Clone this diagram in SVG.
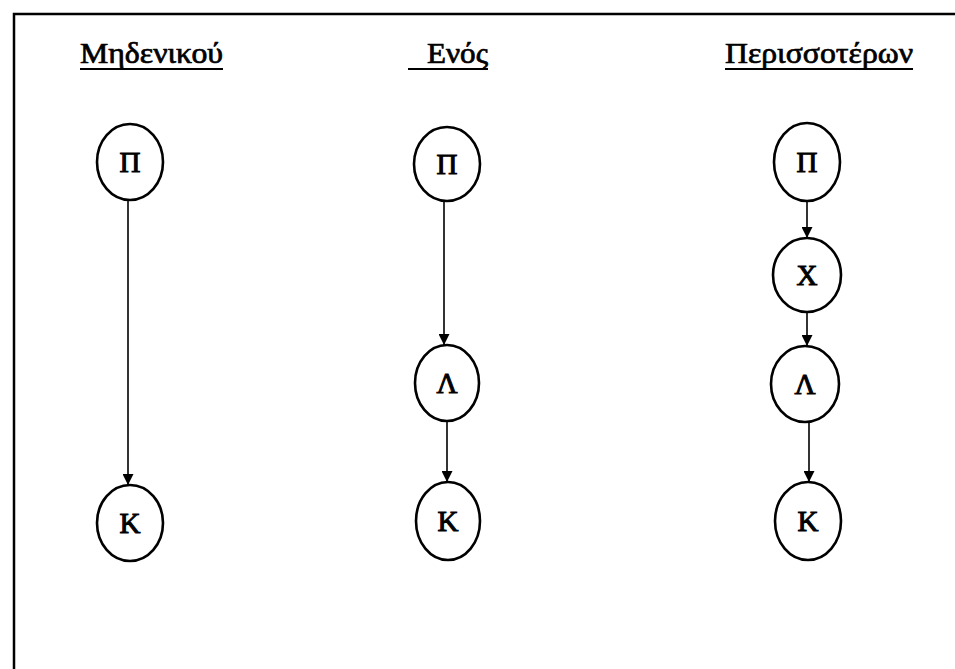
<svg xmlns="http://www.w3.org/2000/svg" width="955" height="669" viewBox="0 0 955 669">
  <defs>
    <marker id="arrow" viewBox="0 0 10 10" refX="10" refY="5" markerWidth="11" markerHeight="11" markerUnits="userSpaceOnUse" orient="auto">
      <path d="M0,0 L10,5 L0,10 Z" fill="#000"/>
    </marker>
  </defs>
  <style>
    .node ellipse { fill: #fff; stroke: #000; stroke-width: 2.6; }
    .node text { font-family: "Liberation Serif", "DejaVu Serif", serif; font-size: 29px; text-anchor: middle; fill: #000; stroke: #000; stroke-width: 1; }
    .title { font-family: "Liberation Serif", "DejaVu Serif", serif; font-size: 29px; fill: #000; stroke: #000; stroke-width: 0.7; }
    .uline { stroke: #000; stroke-width: 2.2; }
    .edges line { stroke: #000; stroke-width: 1.6; marker-end: url(#arrow); }
    .frame { stroke: #000; stroke-width: 2.5; fill: none; }
  </style>
  <rect width="955" height="669" fill="#fff"/>

  <!-- open frame: top and left edges -->
  <path class="frame" d="M14,669 L14,14 L955,14"/>

  <!-- column headings -->
  <g id="headings">
    <text class="title" x="80" y="63" textLength="143" lengthAdjust="spacingAndGlyphs">Μηδενικού</text>
    <line class="uline" x1="80" y1="69" x2="223" y2="69"/>
    <text class="title" x="427" y="63" textLength="61" lengthAdjust="spacingAndGlyphs">Ενός</text>
    <line class="uline" x1="408" y1="69" x2="488" y2="69"/>
    <text class="title" x="725" y="63" textLength="188" lengthAdjust="spacingAndGlyphs">Περισσοτέρων</text>
    <line class="uline" x1="725" y1="69" x2="913" y2="69"/>
  </g>

  <!-- connectors -->
  <g id="edges" class="edges">
    <line x1="128" y1="200" x2="128" y2="485"/>
    <line x1="444" y1="201" x2="444" y2="345"/>
    <line x1="447" y1="421" x2="447" y2="482"/>
    <line x1="807" y1="200" x2="807" y2="238"/>
    <line x1="807" y1="312" x2="807" y2="346"/>
    <line x1="809" y1="422" x2="809" y2="482"/>
  </g>

  <!-- column 1 -->
  <g id="n1-P" class="node">
    <ellipse cx="130" cy="162" rx="33" ry="38"/>
    <text x="130" y="172">Π</text>
  </g>
  <g id="n1-K" class="node">
    <ellipse cx="130" cy="523" rx="33" ry="38"/>
    <text x="130" y="533">Κ</text>
  </g>

  <!-- column 2 -->
  <g id="n2-P" class="node">
    <ellipse cx="447" cy="164" rx="33" ry="37"/>
    <text x="447" y="174">Π</text>
  </g>
  <g id="n2-L" class="node">
    <ellipse cx="447" cy="383" rx="32" ry="38"/>
    <text x="447" y="393">Λ</text>
  </g>
  <g id="n2-K" class="node">
    <ellipse cx="448" cy="521" rx="32" ry="39"/>
    <text x="448" y="531">Κ</text>
  </g>

  <!-- column 3 -->
  <g id="n3-P" class="node">
    <ellipse cx="807" cy="162" rx="33" ry="39"/>
    <text x="807" y="172">Π</text>
  </g>
  <g id="n3-X" class="node">
    <ellipse cx="807" cy="275" rx="34" ry="37"/>
    <text x="807" y="285">Χ</text>
  </g>
  <g id="n3-L" class="node">
    <ellipse cx="805" cy="384" rx="34" ry="38"/>
    <text x="805" y="394">Λ</text>
  </g>
  <g id="n3-K" class="node">
    <ellipse cx="808" cy="521" rx="33" ry="39"/>
    <text x="808" y="531">Κ</text>
  </g>
</svg>
